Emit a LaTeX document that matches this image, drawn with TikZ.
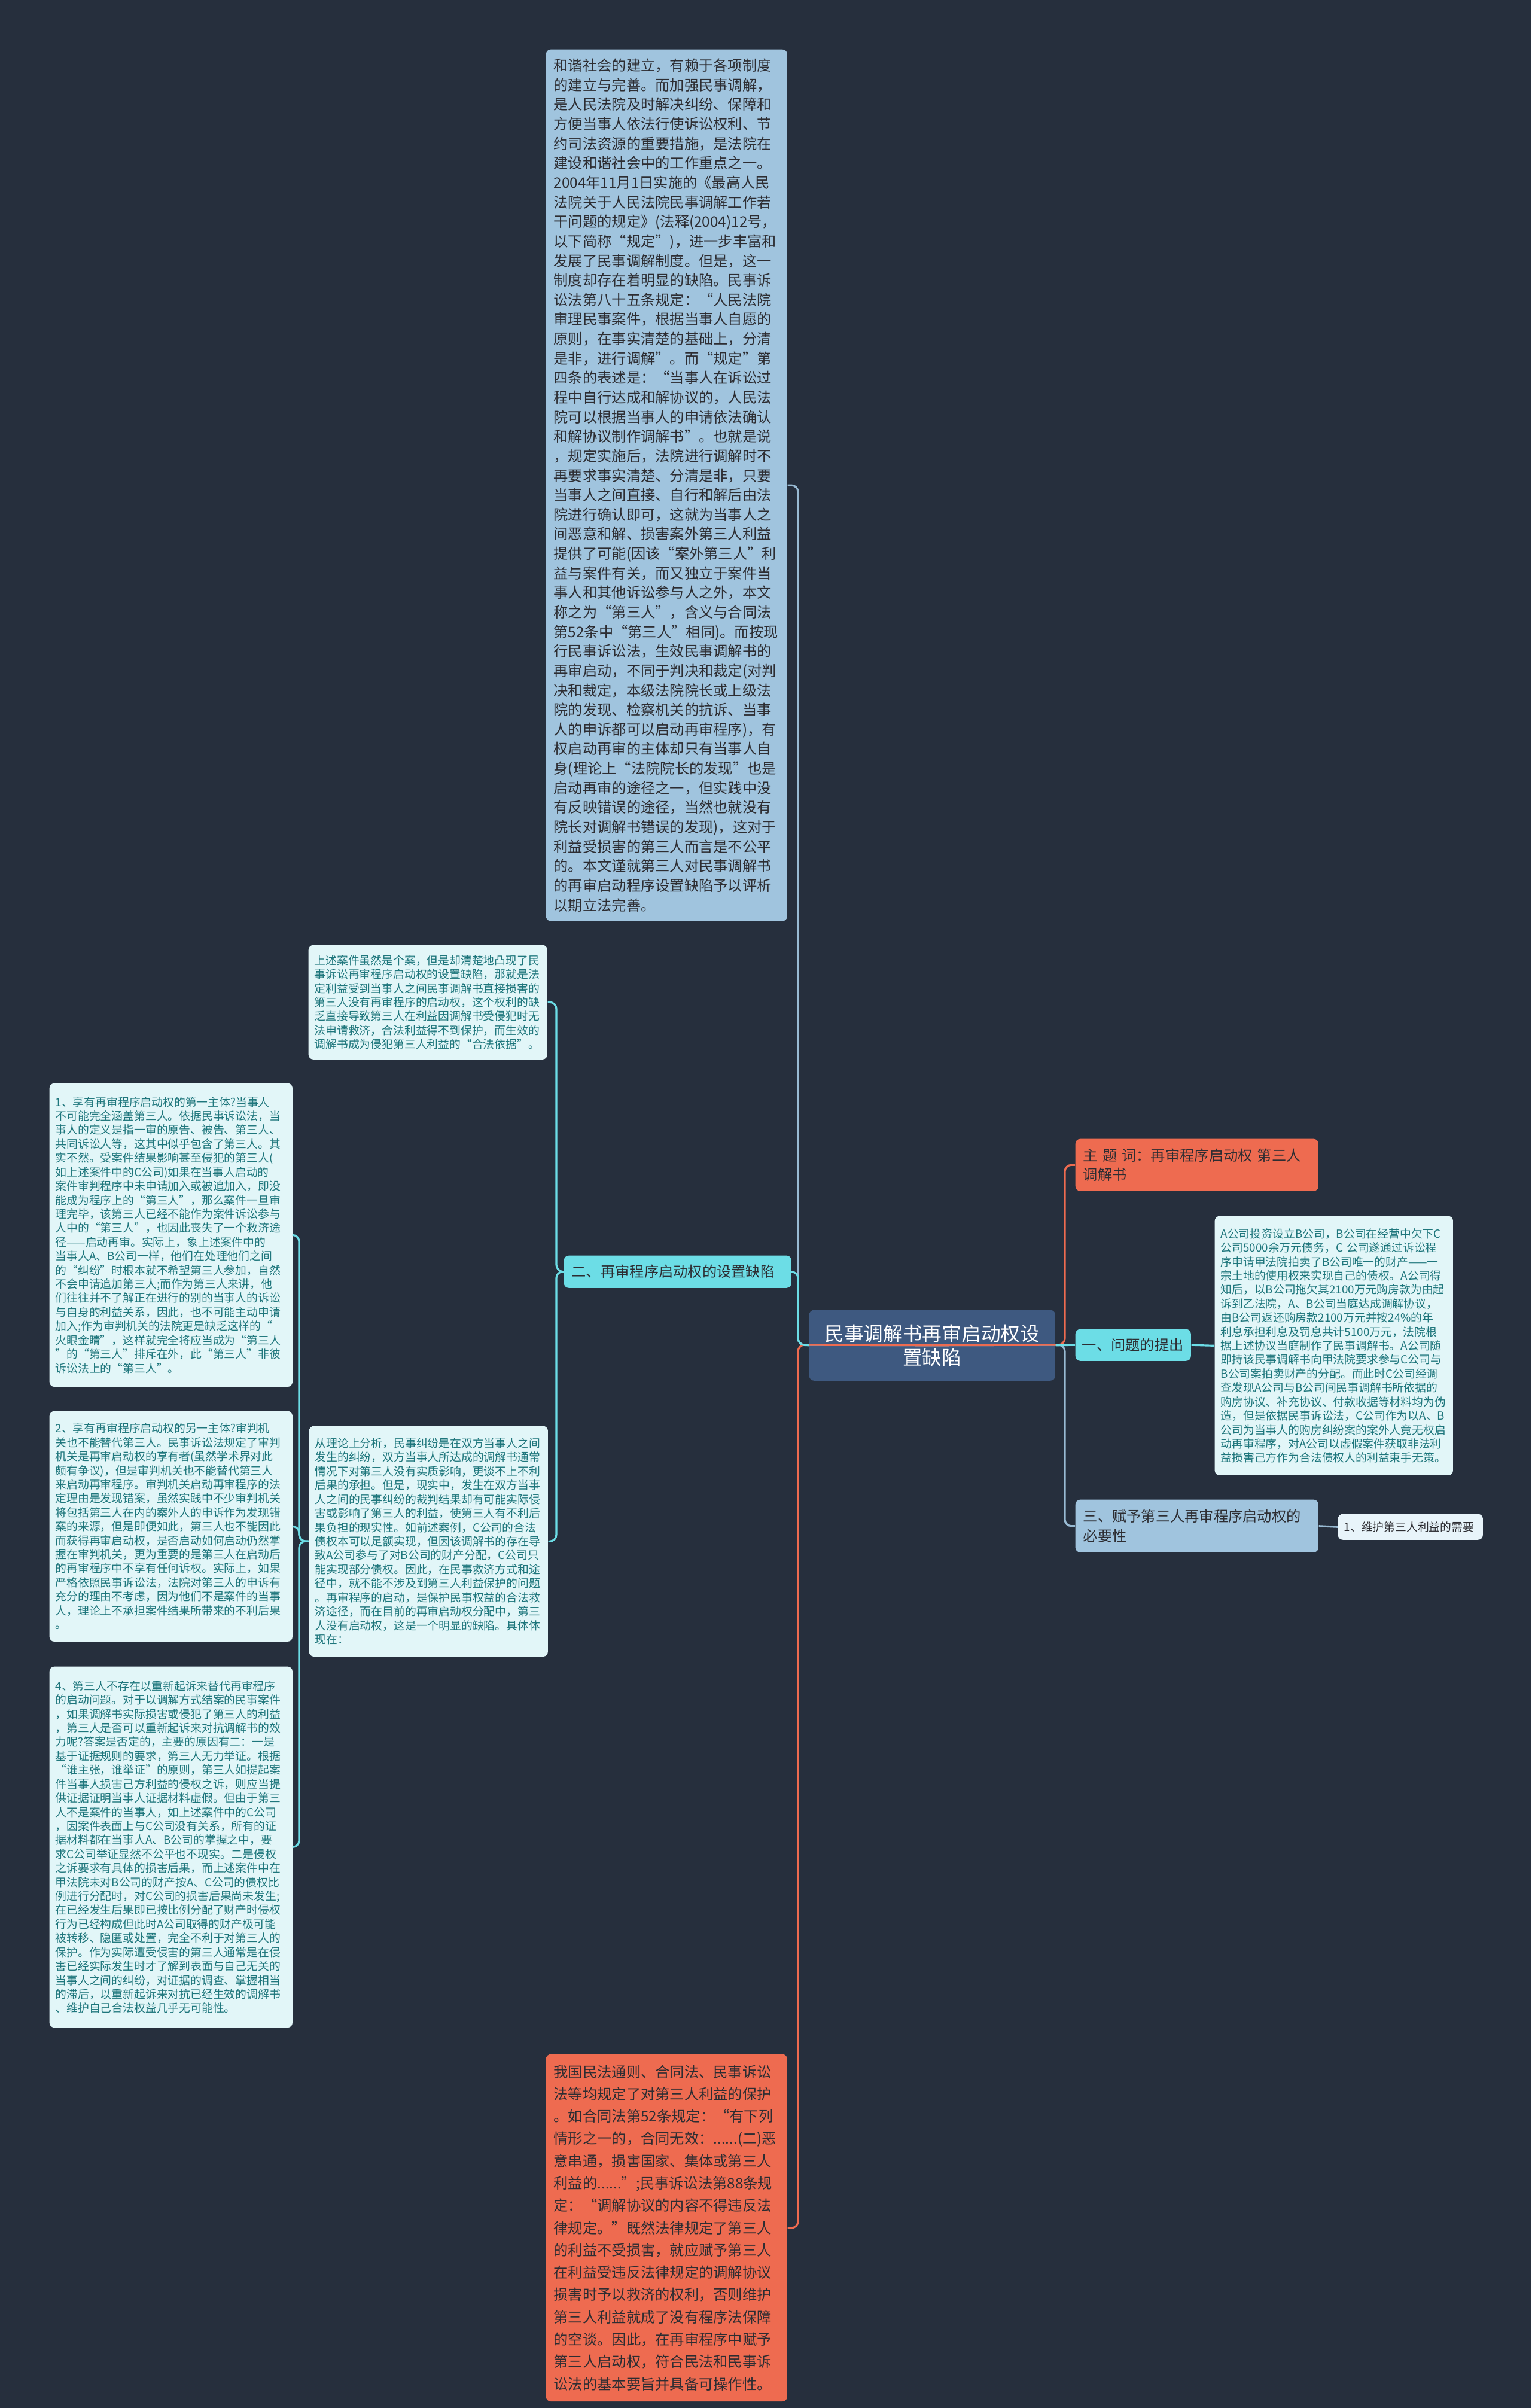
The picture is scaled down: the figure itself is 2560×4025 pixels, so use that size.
\documentclass[tikz,border=0pt]{standalone}
\usepackage{fontspec}
\setmainfont{Noto Sans CJK SC}
\definecolor{bgcol}{RGB}{38,47,61}
\definecolor{rootcol}{RGB}{62,89,128}
\definecolor{salmcol}{RGB}{238,107,80}
\definecolor{cyancol}{RGB}{108,221,230}
\definecolor{bluecol}{RGB}{160,196,222}
\definecolor{leafcol}{RGB}{226,246,248}
\definecolor{needcol}{RGB}{232,244,250}
\definecolor{tealtxt}{RGB}{30,118,124}
\definecolor{darktxt}{RGB}{45,45,50}

\begin{document}
\begin{tikzpicture}[
  x=0.01cm, y=-0.01cm,
  every node/.style={anchor=north west,inner xsep=0.13cm,inner ysep=0.08cm,rounded corners=0.08cm,align=left},
  big/.style ={font=\fontsize{6.9}{9.28}\selectfont,text=darktxt},
  leaf/.style={fill=leafcol,text=tealtxt,font=\fontsize{5.35}{6.66}\selectfont,inner xsep=0.1cm},
  link/.style={line width=0.9pt,rounded corners=0.11cm},
  bluelink/.style={link,draw=bluecol!95!black},
  cyanlink/.style={link,draw=cyancol},
  salmlink/.style={link,draw=salmcol},
]
\fill[bgcol] (0,0) rectangle (2560,4025);

% --- the root and its right-hand branches ---
\node[fill=rootcol,text=white,align=center,text width=3.85cm,minimum height=1.18cm,
      font=\fontsize{9.3}{11.4}\selectfont] (root) at (1352,2189) {民事调解书再审启动权设\\置缺陷};
\node[big,fill=salmcol,text width=3.8cm,minimum height=0.87cm] (theme) at (1797,1903)
  {主 题 词：再审程序启动权 第三人\\调解书};
\node[big,fill=cyancol,inner xsep=0.11cm,text width=1.71cm,minimum height=0.53cm] (q1) at (1797,2221) {一、问题的提出};
\node[big,fill=bluecol,text width=3.8cm,minimum height=0.88cm] (n3) at (1797,2506)
  {三、赋予第三人再审程序启动权的\\必要性};
\node[fill=needcol,text=darktxt,font=\fontsize{5.35}{6.66}\selectfont,inner xsep=0.1cm,
      text width=2.22cm,minimum height=0.43cm] (need) at (2236,2530) {1、维护第三人利益的需要};
\node[leaf,text width=3.78cm,minimum height=4.33cm] (case) at (2030,2032) {%
A公司投资设立B公司，B公司在经营中欠下C\\
公司5000余万元债务，C~公司遂通过诉讼程\\
序申请甲法院拍卖了B公司唯一的财产——一\\
宗土地的使用权来实现自己的债权。A公司得\\
知后，以B公司拖欠其2100万元购房款为由起\\
诉到乙法院，A、B公司当庭达成调解协议，\\
由B公司返还购房款2100万元并按24\%的年\\
利息承担利息及罚息共计5100万元，法院根\\
据上述协议当庭制作了民事调解书。A公司随\\
即持该民事调解书向甲法院要求参与C公司与\\
B公司案拍卖财产的分配。而此时C公司经调\\
查发现A公司与B公司间民事调解书所依据的\\
购房协议、补充协议、付款收据等材料均为伪\\
造，但是依据民事诉讼法，C公司作为以A、B\\
公司为当事人的购房纠纷案的案外人竟无权启\\
动再审程序，对A公司以虚假案件获取非法利\\
益损害己方作为合法债权人的利益束手无策。};

% --- left-hand branches of the root ---
\node[big,fill=bluecol,text width=3.77cm,minimum height=14.56cm] (intro) at (912,82) {%
和谐社会的建立，有赖于各项制度\\
的建立与完善。而加强民事调解，\\
是人民法院及时解决纠纷、保障和\\
方便当事人依法行使诉讼权利、节\\
约司法资源的重要措施，是法院在\\
建设和谐社会中的工作重点之一。\\
2004年11月1日实施的《最高人民\\
法院关于人民法院民事调解工作若\\
干问题的规定》(法释(2004)12号，\\
以下简称“规定”)，进一步丰富和\\
发展了民事调解制度。但是，这一\\
制度却存在着明显的缺陷。民事诉\\
讼法第八十五条规定：“人民法院\\
审理民事案件，根据当事人自愿的\\
原则，在事实清楚的基础上，分清\\
是非，进行调解”。而“规定”第\\
四条的表述是：“当事人在诉讼过\\
程中自行达成和解协议的，人民法\\
院可以根据当事人的申请依法确认\\
和解协议制作调解书”。也就是说\\
，规定实施后，法院进行调解时不\\
再要求事实清楚、分清是非，只要\\
当事人之间直接、自行和解后由法\\
院进行确认即可，这就为当事人之\\
间恶意和解、损害案外第三人利益\\
提供了可能(因该“案外第三人”利\\
益与案件有关，而又独立于案件当\\
事人和其他诉讼参与人之外，本文\\
称之为“第三人”，含义与合同法\\
第52条中“第三人”相同)。而按现\\
行民事诉讼法，生效民事调解书的\\
再审启动，不同于判决和裁定(对判\\
决和裁定，本级法院院长或上级法\\
院的发现、检察机关的抗诉、当事\\
人的申诉都可以启动再审程序)，有\\
权启动再审的主体却只有当事人自\\
身(理论上“法院院长的发现”也是\\
启动再审的途径之一，但实践中没\\
有反映错误的途径，当然也就没有\\
院长对调解书错误的发现)，这对于\\
利益受损害的第三人而言是不公平\\
的。本文谨就第三人对民事调解书\\
的再审启动程序设置缺陷予以评析\\
以期立法完善。};
\node[big,fill=cyancol,text width=3.54cm,minimum height=0.54cm] (n2) at (942,2098) {二、再审程序启动权的设置缺陷};
\node[big,font=\fontsize{6.9}{10.6}\selectfont,fill=salmcol,text width=3.77cm,minimum height=5.80cm] (bottom) at (912,3433) {%
我国民法通则、合同法、民事诉讼\\
法等均规定了对第三人利益的保护\\
。如合同法第52条规定：“有下列\\
情形之一的，合同无效：......(二)恶\\
意串通，损害国家、集体或第三人\\
利益的......”;民事诉讼法第88条规\\
定：“调解协议的内容不得违反法\\
律规定。”既然法律规定了第三人\\
的利益不受损害，就应赋予第三人\\
在利益受违反法律规定的调解协议\\
损害时予以救济的权利，否则维护\\
第三人利益就成了没有程序法保障\\
的空谈。因此，在再审程序中赋予\\
第三人启动权，符合民法和民事诉\\
讼法的基本要旨并具备可操作性。};

% --- children of 二 ---
\node[leaf,text width=3.79cm,minimum height=1.91cm] (shu) at (515,1579) {%
上述案件虽然是个案，但是却清楚地凸现了民\\
事诉讼再审程序启动权的设置缺陷，那就是法\\
定利益受到当事人之间民事调解书直接损害的\\
第三人没有再审程序的启动权，这个权利的缺\\
乏直接导致第三人在利益因调解书受侵犯时无\\
法申请救济，合法利益得不到保护，而生效的\\
调解书成为侵犯第三人利益的“合法依据”。};
\node[leaf,text width=3.79cm,minimum height=3.85cm] (theory) at (516,2383) {%
从理论上分析，民事纠纷是在双方当事人之间\\
发生的纠纷，双方当事人所达成的调解书通常\\
情况下对第三人没有实质影响，更谈不上不利\\
后果的承担。但是，现实中，发生在双方当事\\
人之间的民事纠纷的裁判结果却有可能实际侵\\
害或影响了第三人的利益，使第三人有不利后\\
果负担的现实性。如前述案例，C公司的合法\\
债权本可以足额实现，但因该调解书的存在导\\
致A公司参与了对B公司的财产分配，C公司只\\
能实现部分债权。因此，在民事救济方式和途\\
径中，就不能不涉及到第三人利益保护的问题\\
。再审程序的启动，是保护民事权益的合法救\\
济途径，而在目前的再审启动权分配中，第三\\
人没有启动权，这是一个明显的缺陷。具体体\\
现在：};

% --- children of the theory box ---
\node[leaf,text width=3.86cm,minimum height=5.07cm] (c1) at (82,1810) {%
1、享有再审程序启动权的第一主体?当事人\\
不可能完全涵盖第三人。依据民事诉讼法，当\\
事人的定义是指一审的原告、被告、第三人、\\
共同诉讼人等，这其中似乎包含了第三人。其\\
实不然。受案件结果影响甚至侵犯的第三人(\\
如上述案件中的C公司)如果在当事人启动的\\
案件审判程序中未申请加入或被追加入，即没\\
能成为程序上的“第三人”，那么案件一旦审\\
理完毕，该第三人已经不能作为案件诉讼参与\\
人中的“第三人”，也因此丧失了一个救济途\\
径——启动再审。实际上，象上述案件中的\\
当事人A、B公司一样，他们在处理他们之间\\
的“纠纷”时根本就不希望第三人参加，自然\\
不会申请追加第三人;而作为第三人来讲，他\\
们往往并不了解正在进行的别的当事人的诉讼\\
与自身的利益关系，因此，也不可能主动申请\\
加入;作为审判机关的法院更是缺乏这样的“\\
火眼金睛”，这样就完全将应当成为“第三人\\
”的“第三人”排斥在外，此“第三人”非彼\\
诉讼法上的“第三人”。};
\node[leaf,text width=3.86cm,minimum height=3.85cm] (c2) at (82,2358) {%
2、享有再审程序启动权的另一主体?审判机\\
关也不能替代第三人。民事诉讼法规定了审判\\
机关是再审启动权的享有者(虽然学术界对此\\
颇有争议)，但是审判机关也不能替代第三人\\
来启动再审程序。审判机关启动再审程序的法\\
定理由是发现错案，虽然实践中不少审判机关\\
将包括第三人在内的案外人的申诉作为发现错\\
案的来源，但是即便如此，第三人也不能因此\\
而获得再审启动权，是否启动如何启动仍然掌\\
握在审判机关，更为重要的是第三人在启动后\\
的再审程序中不享有任何诉权。实际上，如果\\
严格依照民事诉讼法，法院对第三人的申诉有\\
充分的理由不考虑，因为他们不是案件的当事\\
人，理论上不承担案件结果所带来的不利后果\\
。};
\node[leaf,text width=3.86cm,minimum height=6.03cm] (c4) at (82,2785) {%
4、第三人不存在以重新起诉来替代再审程序\\
的启动问题。对于以调解方式结案的民事案件\\
，如果调解书实际损害或侵犯了第三人的利益\\
，第三人是否可以重新起诉来对抗调解书的效\\
力呢?答案是否定的，主要的原因有二：一是\\
基于证据规则的要求，第三人无力举证。根据\\
“谁主张，谁举证”的原则，第三人如提起案\\
件当事人损害己方利益的侵权之诉，则应当提\\
供证据证明当事人证据材料虚假。但由于第三\\
人不是案件的当事人，如上述案件中的C公司\\
，因案件表面上与C公司没有关系，所有的证\\
据材料都在当事人A、B公司的掌握之中，要\\
求C公司举证显然不公平也不现实。二是侵权\\
之诉要求有具体的损害后果，而上述案件中在\\
甲法院未对B公司的财产按A、C公司的债权比\\
例进行分配时，对C公司的损害后果尚未发生;\\
在已经发生后果即已按比例分配了财产时侵权\\
行为已经构成但此时A公司取得的财产极可能\\
被转移、隐匿或处置，完全不利于对第三人的\\
保护。作为实际遭受侵害的第三人通常是在侵\\
害已经实际发生时才了解到表面与自己无关的\\
当事人之间的纠纷，对证据的调查、掌握相当\\
的滞后，以重新起诉来对抗已经生效的调解书\\
、维护自己合法权益几乎无可能性。};

% --- connectors (trunk points) ---
\coordinate (lt) at (1334,2248);
\coordinate (rt) at (1780,2248);
\coordinate (t2) at (930,2125);
\coordinate (t3) at (500,2576);
\draw[bluelink] (root.center) -- (lt) |- (intro.east);
\draw[bluelink] (root.center) -- (rt) |- (n3.west);
\draw[bluelink] (n3.east) -- (need.west);
\draw[salmlink] (root.center) -- (lt) |- (bottom.east);
\draw[salmlink] (root.center) -- (rt) |- (theme.west);
\draw[cyanlink] (root.west) -- (lt) |- (n2.east);
\draw[cyanlink] (root.east) -- (q1.west);
\draw[cyanlink] (q1.east) -- (case.west);
\draw[cyanlink] (n2.west) -- (t2) |- (shu.east);
\draw[cyanlink] (n2.west) -- (t2) |- (theory.east);
\foreach \c in {c1,c2,c4}
  \draw[cyanlink] (theory.west) -- (t3) |- (\c.east);
\end{tikzpicture}
\end{document}
